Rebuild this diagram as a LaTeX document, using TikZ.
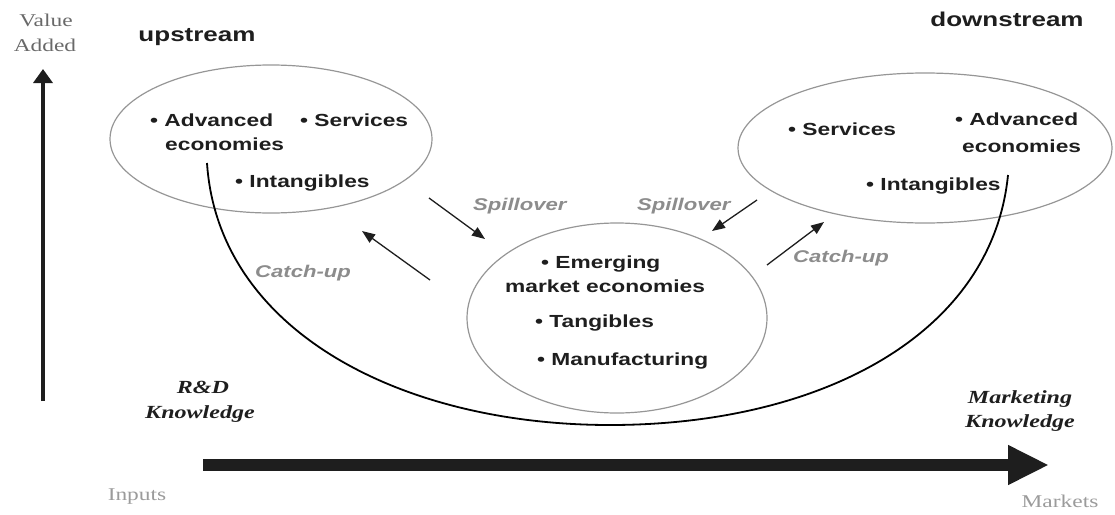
\documentclass[tikz,border=0pt]{standalone}
\usepackage{fontspec}
\usetikzlibrary{shapes.geometric,arrows.meta}
\newfontfamily\sansw[FakeStretch=1.3]{Liberation Sans}
\newfontfamily\serifw[FakeStretch=1.3]{Liberation Serif}
\definecolor{ellgray}{RGB}{150,150,150}
\definecolor{lblgray}{RGB}{140,140,140}
\definecolor{lightgray}{RGB}{155,155,155}
\definecolor{midgray}{RGB}{105,105,105}
\definecolor{ink}{RGB}{30,30,30}
\tikzset{
  bubble/.style={ellipse,draw=ellgray,line width=1.2pt,inner sep=0pt},
  item/.style={anchor=base west,inner sep=0pt,text=ink,font=\sansw\bfseries\fontsize{17.5}{20}\selectfont},
  flowlbl/.style={anchor=base west,inner sep=0pt,text=lblgray,font=\sansw\bfseries\itshape\fontsize{17}{20}\selectfont},
  headlbl/.style={anchor=base,inner sep=0pt,text=ink,font=\sansw\bfseries\fontsize{20}{22}\selectfont},
  knowlbl/.style={anchor=base,inner sep=0pt,text=ink,font=\serifw\bfseries\itshape\fontsize{18.5}{20}\selectfont},
  axislbl/.style={anchor=base,inner sep=0pt,text=lightgray,font=\serifw\fontsize{18}{20}\selectfont},
  flowarrow/.style={draw=ink,line width=1.3pt,-{Triangle[length=13pt,width=10pt]}},
}
\begin{document}
\begin{tikzpicture}[x=1pt,y=-1pt]
\useasboundingbox (0,0) rectangle (1115,514);
% ellipses
\node[bubble,minimum width=322pt,minimum height=148pt] (left) at (271,139) {};
\node[bubble,minimum width=374pt,minimum height=150pt] (right) at (925,148) {};
\node[bubble,minimum width=300pt,minimum height=190pt] (mid) at (617,318) {};
% U curve
\coordinate (ustart) at (207,163);
\coordinate (ubottom) at (610,425);
\coordinate (uend) at (1008,175);
\draw[black,line width=1.8pt] (ustart) .. controls (218,330) and (400,425) .. (ubottom)
  .. controls (820,425) and (992,335) .. (uend);
% left ellipse text
\node[item] (la) at (150,126) {• Advanced};
\node[item] (le) at (165,150) {economies};
\node[item] (ls) at (300,126) {• Services};
\node[item] (li) at (235,187) {• Intangibles};
% right ellipse text
\node[item] (rs) at (788,135) {• Services};
\node[item] (ra) at (955,125) {• Advanced};
\node[item] (re) at (962,152) {economies};
\node[item] (ri) at (866,190) {• Intangibles};
% middle ellipse text
\node[item] (me) at (541,268) {• Emerging};
\node[item] (mm) at (505,292) {market economies};
\node[item] (mt) at (535,327) {• Tangibles};
\node[item] (mf) at (537,365) {• Manufacturing};
% headers
\node[headlbl] (up) at (197,41) {upstream};
\node[headlbl] (down) at (1007,27) {downstream};
% flow labels
\node[flowlbl] (spl) at (473,210) {Spillover};
\node[flowlbl] (spr) at (637,210) {Spillover};
\node[flowlbl] (cul) at (255,277) {Catch-up};
\node[flowlbl] (cur) at (793,262) {Catch-up};
% flow arrows
\coordinate (a1s) at (429,198); \coordinate (a1e) at (485,239);
\coordinate (a2s) at (757,200); \coordinate (a2e) at (712,231);
\coordinate (a3s) at (430,280); \coordinate (a3e) at (362,231);
\coordinate (a4s) at (767,265); \coordinate (a4e) at (824,222);
\draw[flowarrow] (a1s) -- (a1e);
\draw[flowarrow] (a2s) -- (a2e);
\draw[flowarrow] (a3s) -- (a3e);
\draw[flowarrow] (a4s) -- (a4e);
% value added axis
\node[axislbl,text=midgray] (va1) at (46,27) {Value};
\node[axislbl,text=midgray] (va2) at (45,51) {Added};
\coordinate (vbot) at (43,401);
\coordinate (vtop) at (43,69);
\draw[ink,line width=4pt,-{Triangle[length=14pt,width=19pt]}] (vbot) -- (vtop);
% bottom axis
\coordinate (hl) at (203,465);
\coordinate (hr) at (1049,465);
\draw[ink,line width=12pt,-{Triangle[length=41pt,width=37pt]}] (hl) -- (hr);
\node[axislbl] (inp) at (137,500) {Inputs};
\node[axislbl] (mkt) at (1060,507) {Markets};
% knowledge labels
\node[knowlbl] (rd1) at (203,393) {R\&D};
\node[knowlbl] (rd2) at (200,418) {Knowledge};
\node[knowlbl] (mk1) at (1020,403) {Marketing};
\node[knowlbl] (mk2) at (1020,427) {Knowledge};
\end{tikzpicture}
\end{document}
